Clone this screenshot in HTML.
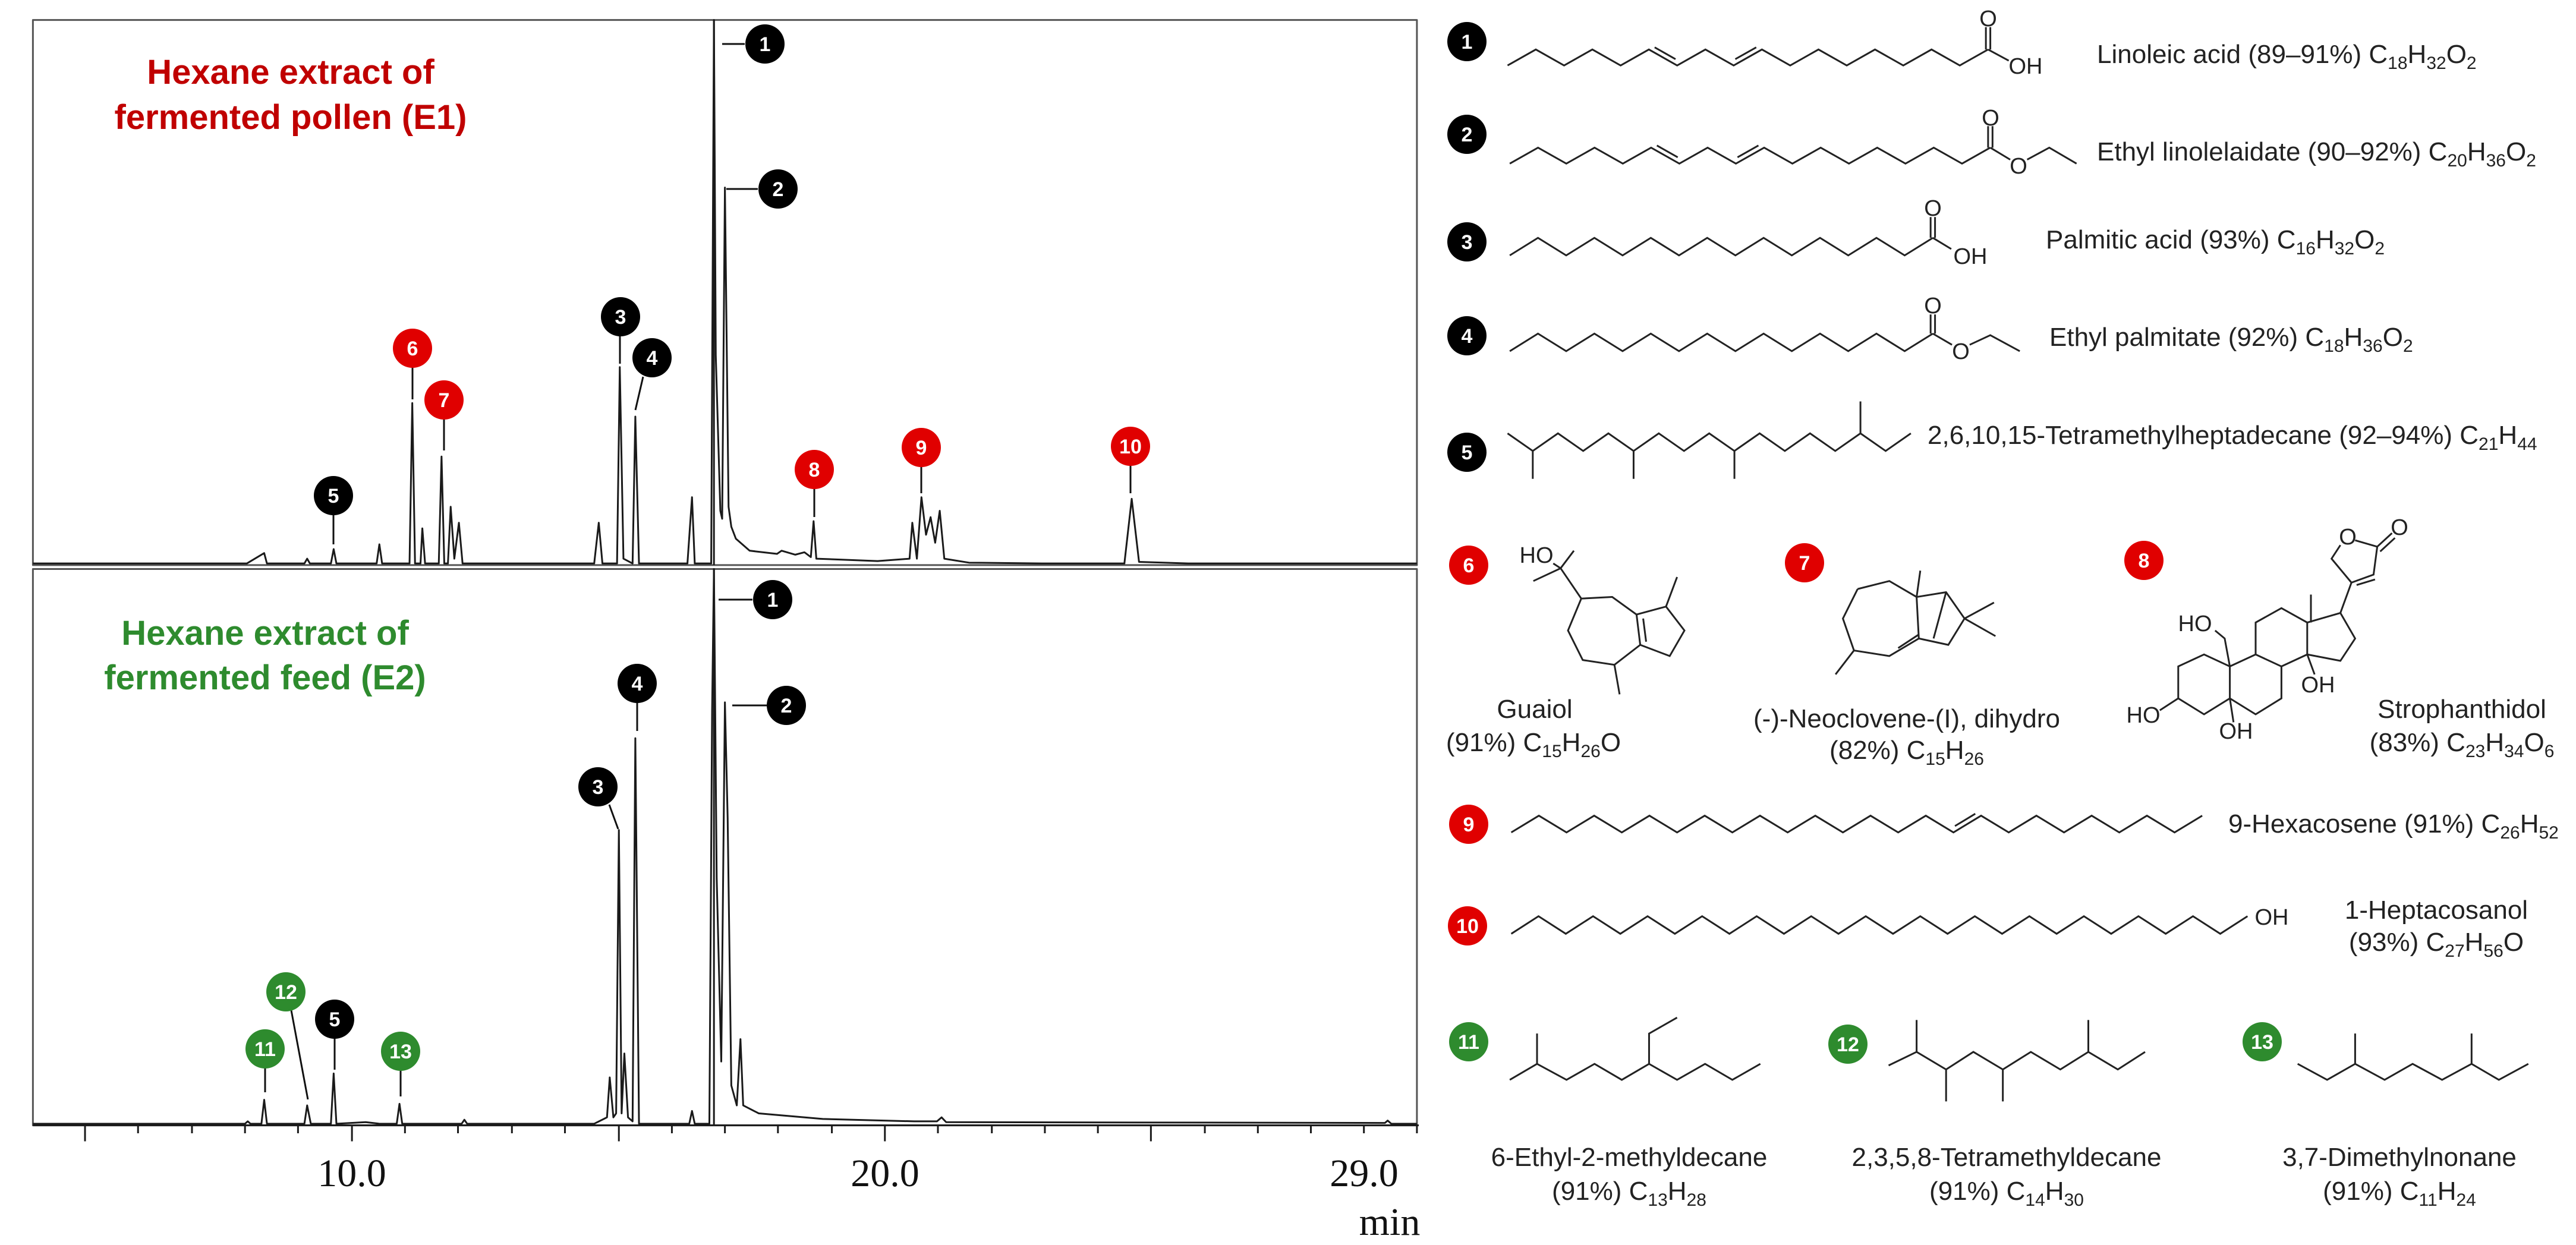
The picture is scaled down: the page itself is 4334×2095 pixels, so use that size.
<!DOCTYPE html>
<html><head><meta charset="utf-8"><style>
html,body{margin:0;padding:0;background:#fff;}
svg{display:block;}
.t{font-family:"Liberation Sans",sans-serif;font-size:44px;fill:#222;}
.n{font-family:"Liberation Sans",sans-serif;font-weight:bold;font-size:34px;fill:#fff;text-anchor:middle;}
.ax{font-family:"Liberation Serif",serif;font-size:66px;fill:#111;}
.ln{fill:none;stroke:#222;stroke-width:3;vector-effect:non-scaling-stroke;stroke-linejoin:miter;}
.tr{fill:none;stroke:#1a1a1a;stroke-width:3;vector-effect:non-scaling-stroke;stroke-linejoin:round;}
.at{font-family:"Liberation Sans",sans-serif;font-size:38px;fill:#222;}
</style></head><body>
<svg width="4334" height="2095" viewBox="0 0 4334 2095" xmlns="http://www.w3.org/2000/svg">
<rect width="4334" height="2095" fill="#fff"/>
<!-- chromatogram -->
<g transform="matrix(1.538 0 0 1.343 0 0)">
<rect x="36" y="25" width="1514" height="683" class="tr" style="stroke:#555"/>
<rect x="36" y="713" width="1514" height="697" class="tr" style="stroke:#555"/>
<path class="tr" d="M36 1410 L1552 1410"/>
<path class="tr" d="M781 25 V708 M781 713 V1410"/>
<path class="tr" d="M93 1410 v20 M151 1410 v10 M210 1410 v10 M268 1410 v10 M326 1410 v10 M385 1410 v20 M443 1410 v10 M501 1410 v10 M560 1410 v10 M618 1410 v10 M677 1410 v20 M735 1410 v10 M793 1410 v10 M851 1410 v10 M910 1410 v10 M968 1410 v20 M1026 1410 v10 M1085 1410 v10 M1143 1410 v10 M1201 1410 v10 M1259 1410 v20 M1318 1410 v10 M1376 1410 v10 M1434 1410 v10 M1492 1410 v10 M1550 1410 v10"/>
<path class="tr" d="M36 706 L270 706 L289 693 L292 706 L333 706 L336 700 L339 706 L362 706 L365 688 L368 706 L412 706 L415 682 L418 706 L448 706 L451 505 L454 706 L460 706 L462 662 L465 706 L480 706 L483 572 L486 706 L490 706 L493 635 L497 700 L502 655 L506 706 L650 706 L655 655 L659 706 L675 706 L678 460 L682 700 L692 706 L695 522 L699 706 L752 706 L757 623 L760 706 L778 706 L781 25 L783 445 L788 640 L790 650 L793 235 L797 635 L800 660 L805 675 L820 690 L850 694 L855 690 L870 695 L880 692 L887 698 L890 653 L893 700 L960 703 L995 700 L998 655 L1003 700 L1008 623 L1013 670 L1018 648 L1023 680 L1028 640 L1033 700 L1060 705 L1140 706 L1230 706 L1238 625 L1246 704 L1300 706 L1550 706"/>
<path class="tr" d="M36 1408 L268 1408 L271 1405 L274 1408 L286 1408 L289 1378 L292 1408 L333 1408 L336 1385 L340 1408 L362 1408 L365 1345 L368 1408 L400 1406 L415 1408 L434 1408 L437 1383 L440 1408 L505 1408 L508 1403 L511 1408 L650 1408 L664 1400 L667 1350 L671 1400 L674 1395 L677 1040 L680 1395 L683 1320 L687 1400 L692 1405 L695 925 L699 1408 L754 1408 L757 1392 L760 1408 L776 1408 L779 890 L781 713 L784 1100 L789 1330 L793 880 L796 1025 L800 1360 L806 1385 L810 1302 L813 1385 L830 1395 L900 1402 L1000 1405 L1025 1405 L1030 1400 L1035 1406 L1515 1407 L1518 1404 L1522 1408 L1550 1408"/>
</g>
<text class="ax" x="592" y="1996" text-anchor="middle">10.0</text>
<text class="ax" x="1489" y="1996" text-anchor="middle">20.0</text>
<text class="ax" x="2295" y="1996" text-anchor="middle">29.0</text>
<text class="ax" x="2338" y="2078" text-anchor="middle">min</text>
<g font-family="Liberation Sans,sans-serif" font-weight="bold" font-size="58" text-anchor="middle">
<text x="489" y="141" fill="#c00000">Hexane extract of</text>
<text x="489" y="217" fill="#c00000">fermented pollen (E1)</text>
<text x="446" y="1085" fill="#2e8b2e">Hexane extract of</text>
<text x="446" y="1160" fill="#2e8b2e">fermented feed (E2)</text>
</g>
<!-- leader lines -->
<path stroke="#111" stroke-width="3" fill="none" d="M1215 74 H1253 M1222 318 H1275 M1043 565 V612 M1082 634 L1069 690 M561 866 V916 M694 618 V672 M747 705 V758 M1370 822 V870 M1550 785 V830 M1902 783 V830 M1209 1009 H1266 M1232 1187 H1290 M1072 1182 V1230 M1025 1354 L1040 1395 M563 1747 V1800 M446 1797 V1838 M490 1700 L518 1850 M674 1801 V1845"/>
<g>
<circle cx="1287" cy="74" r="33" fill="#000"/><text class="n" x="1287" y="86">1</text>
<circle cx="1309" cy="318" r="33" fill="#000"/><text class="n" x="1309" y="330">2</text>
<circle cx="1044" cy="533" r="33" fill="#000"/><text class="n" x="1044" y="545">3</text>
<circle cx="1097" cy="602" r="33" fill="#000"/><text class="n" x="1097" y="614">4</text>
<circle cx="561" cy="834" r="33" fill="#000"/><text class="n" x="561" y="846">5</text>
<circle cx="694" cy="586" r="33" fill="#e00000"/><text class="n" x="694" y="598">6</text>
<circle cx="747" cy="673" r="33" fill="#e00000"/><text class="n" x="747" y="685">7</text>
<circle cx="1370" cy="790" r="33" fill="#e00000"/><text class="n" x="1370" y="802">8</text>
<circle cx="1550" cy="753" r="33" fill="#e00000"/><text class="n" x="1550" y="765">9</text>
<circle cx="1902" cy="751" r="33" fill="#e00000"/><text class="n" x="1902" y="763">10</text>
<circle cx="1300" cy="1009" r="33" fill="#000"/><text class="n" x="1300" y="1021">1</text>
<circle cx="1323" cy="1187" r="33" fill="#000"/><text class="n" x="1323" y="1199">2</text>
<circle cx="1072" cy="1150" r="33" fill="#000"/><text class="n" x="1072" y="1162">4</text>
<circle cx="1006" cy="1324" r="33" fill="#000"/><text class="n" x="1006" y="1336">3</text>
<circle cx="563" cy="1715" r="33" fill="#000"/><text class="n" x="563" y="1727">5</text>
<circle cx="446" cy="1765" r="33" fill="#2e8b2e"/><text class="n" x="446" y="1777">11</text>
<circle cx="481" cy="1669" r="33" fill="#2e8b2e"/><text class="n" x="481" y="1681">12</text>
<circle cx="674" cy="1769" r="33" fill="#2e8b2e"/><text class="n" x="674" y="1781">13</text>
</g>
<!-- right side structures -->
<g transform="matrix(1.24 0 0 1.343 2400 0)">
<path class="ln" d="M110 82 l38.35 -20 l38.35 20 l38.35 -20 l38.35 20 l38.35 -20 l38.35 20 l38.35 -20 l38.35 20 l38.35 -20 l38.35 20 l38.35 -20 l38.35 20 l38.35 -20 l38.35 20 l38.35 -20 l38.35 20 l38.35 -20 M309.6 59.3 L337.9 74.1 M419 74.1 L447.4 59.3 M759 62 V34 M765 62 V34 M762 62 L790 76"/>
<path class="ln" d="M113 205 l38.35 -20 l38.35 20 l38.35 -20 l38.35 20 l38.35 -20 l38.35 20 l38.35 -20 l38.35 20 l38.35 -20 l38.35 20 l38.35 -20 l38.35 20 l38.35 -20 l38.35 20 l38.35 -20 l38.35 20 l38.35 -20 M312.6 182.3 L340.9 197.1 M422 197.1 L450.4 182.3 M762 185 V158 M768 185 V158 M765 185 L792 200 M815 200 L845 185 L882 205"/>
<path class="ln" d="M113 320 l38.27 -22 l38.27 22 l38.27 -22 l38.27 22 l38.27 -22 l38.27 22 l38.27 -22 l38.27 22 l38.27 -22 l38.27 22 l38.27 -22 l38.27 22 l38.27 -22 l38.27 22 l38.27 -22 M684 298 V272 M690 298 V272 M687 298 L712 312"/>
<path class="ln" d="M113 440 l38.27 -22 l38.27 22 l38.27 -22 l38.27 22 l38.27 -22 l38.27 22 l38.27 -22 l38.27 22 l38.27 -22 l38.27 22 l38.27 -22 l38.27 22 l38.27 -22 l38.27 22 l38.27 -22 M684 418 V394 M690 418 V394 M687 418 L713 432 M737 432 L765 420 L805 440"/>
<path class="ln" d="M110 543 l34.2 22 l34.2 -22 l34.2 22 l34.2 -22 l34.2 22 l34.2 -22 l34.2 22 l34.2 -22 l34.2 22 l34.2 -22 l34.2 22 l34.2 -22 l34.2 22 l34.2 -22 l34.2 22 l34.2 -22 M144.2 565 V600 M281 565 V600 M417.8 565 V600 M588.8 543 V503"/>
<path class="ln" d="M115 1043 l37.5 -21 l37.5 21 l37.5 -21 l37.5 21 l37.5 -21 l37.5 21 l37.5 -21 l37.5 21 l37.5 -21 l37.5 21 l37.5 -21 l37.5 21 l37.5 -21 l37.5 21 l37.5 -21 l37.5 21 l37.5 -21 l37.5 21 l37.5 -21 l37.5 21 l37.5 -21 l37.5 21 l37.5 -21 l37.5 21 l37.5 -21 M717 1035 L744.6 1019.6"/>
<path class="ln" d="M115 1170 l37 -22 l37 22 l37 -22 l37 22 l37 -22 l37 22 l37 -22 l37 22 l37 -22 l37 22 l37 -22 l37 22 l37 -22 l37 22 l37 -22 l37 22 l37 -22 l37 22 l37 -22 l37 22 l37 -22 l37 22 l37 -22 l37 22 l37 -22 l37 22 l37 -22"/>
<path class="ln" d="M113 1353 L150 1333 L190 1353 L228 1333 L265 1353 L302 1333 L340 1353 L378 1333 L415 1353 L453 1333 M150 1333 V1295 M302 1333 V1295 L340 1275"/>
<path class="ln" d="M627 1335 L665 1318 L705 1340 L742 1318 L782 1340 L820 1318 L860 1340 L898 1318 L938 1340 L975 1318 M665 1318 V1278 M705 1340 V1380 M782 1340 V1380 M898 1318 V1278"/>
<path class="ln" d="M1182 1333 L1222 1353 L1260 1333 L1300 1353 L1338 1333 L1378 1353 L1418 1333 L1455 1353 L1495 1333 M1260 1333 V1295 M1418 1333 V1295"/>
<!-- guaiol -->
<path class="ln" d="M172 706 L182 712 L200 690 M145 728 L182 712 L210 750 L252 748 L285 770 L290 808 L255 833 L212 827 L192 790 L210 750 M285 770 L325 760 L350 790 L330 822 L290 808 M294 775 L298 804 M325 760 L340 723 M255 833 L262 870"/>
<!-- neoclovene -->
<path class="ln" d="M585 738 L628 728 L665 748 L668 800 L628 822 L580 815 L565 775 L585 738 M665 748 L670 715 M665 748 L705 742 L730 775 L708 808 L668 800 M705 742 L688 800 M730 775 L770 755 M730 775 L772 797 M580 815 L555 845 M640 812 L668 795"/>
<!-- strophanthidol -->
<path class="ln" d="M1020 835 L1055 820 L1090 835 L1090 875 L1055 895 L1020 875 Z M1090 835 L1125 820 L1160 835 L1160 875 L1125 895 L1090 875 M1125 820 L1125 780 L1160 762 L1195 780 L1195 820 L1160 835 M1195 780 L1240 768 L1260 800 L1240 828 L1195 820 M1240 768 L1255 730 M1255 730 L1228 700 L1240 683 M1260 677 L1290 685 L1285 720 L1255 730 M1262 733 L1287 726 M1290 685 L1310 668 M1294 691 L1314 674 M1200 780 V745 M1090 835 L1083 800 L1070 790 M1020 875 L995 890 M1090 875 L1095 905 M1195 820 L1205 845"/>
</g>
<!-- right numbered circles -->
<g>
<circle cx="2468" cy="70" r="33" fill="#000"/><text class="n" x="2468" y="82">1</text>
<circle cx="2468" cy="226" r="33" fill="#000"/><text class="n" x="2468" y="238">2</text>
<circle cx="2468" cy="407" r="33" fill="#000"/><text class="n" x="2468" y="419">3</text>
<circle cx="2468" cy="565" r="33" fill="#000"/><text class="n" x="2468" y="577">4</text>
<circle cx="2468" cy="761" r="33" fill="#000"/><text class="n" x="2468" y="773">5</text>
<circle cx="2471" cy="951" r="33" fill="#e00000"/><text class="n" x="2471" y="963">6</text>
<circle cx="3036" cy="947" r="33" fill="#e00000"/><text class="n" x="3036" y="959">7</text>
<circle cx="3607" cy="943" r="33" fill="#e00000"/><text class="n" x="3607" y="955">8</text>
<circle cx="2471" cy="1387" r="33" fill="#e00000"/><text class="n" x="2471" y="1399">9</text>
<circle cx="2469" cy="1558" r="33" fill="#e00000"/><text class="n" x="2469" y="1570">10</text>
<circle cx="2471" cy="1753" r="33" fill="#2e8b2e"/><text class="n" x="2471" y="1765">11</text>
<circle cx="3109" cy="1757" r="33" fill="#2e8b2e"/><text class="n" x="3109" y="1769">12</text>
<circle cx="3806" cy="1753" r="33" fill="#2e8b2e"/><text class="n" x="3806" y="1765">13</text>
</g>
<!-- atom labels -->
<g class="at" text-anchor="middle">
<text class="at" x="3345" y="44">O</text>
<text class="at" x="3408" y="124">OH</text>
<text class="at" x="3349" y="211">O</text>
<text class="at" x="3396" y="292">O</text>
<text class="at" x="3252" y="363">O</text>
<text class="at" x="3315" y="444">OH</text>
<text class="at" x="3252" y="527">O</text>
<text class="at" x="3299" y="604">O</text>
<text class="at" x="3822" y="1556">OH</text>
<text class="at" x="2585" y="947">HO</text>
<text class="at" x="3693" y="1062">HO</text>
<text class="at" x="3606" y="1216">HO</text>
<text class="at" x="3762" y="1243">OH</text>
<text class="at" x="3900" y="1165">OH</text>
<text class="at" x="3950" y="916">O</text>
<text class="at" x="4037" y="900">O</text>
</g>
<!-- right labels -->
<text class="t" x="3528" y="106">Linoleic acid (89–91%) C<tspan dy="10" font-size="30">18</tspan><tspan dy="-10">H</tspan><tspan dy="10" font-size="30">32</tspan><tspan dy="-10">O</tspan><tspan dy="10" font-size="30">2</tspan></text>
<text class="t" x="3528" y="270">Ethyl linolelaidate (90–92%) C<tspan dy="10" font-size="30">20</tspan><tspan dy="-10">H</tspan><tspan dy="10" font-size="30">36</tspan><tspan dy="-10">O</tspan><tspan dy="10" font-size="30">2</tspan></text>
<text class="t" x="3442" y="418">Palmitic acid (93%) C<tspan dy="10" font-size="30">16</tspan><tspan dy="-10">H</tspan><tspan dy="10" font-size="30">32</tspan><tspan dy="-10">O</tspan><tspan dy="10" font-size="30">2</tspan></text>
<text class="t" x="3448" y="582">Ethyl palmitate (92%) C<tspan dy="10" font-size="30">18</tspan><tspan dy="-10">H</tspan><tspan dy="10" font-size="30">36</tspan><tspan dy="-10">O</tspan><tspan dy="10" font-size="30">2</tspan></text>
<text class="t" x="3243" y="747">2,6,10,15-Tetramethylheptadecane (92–94%) C<tspan dy="10" font-size="30">21</tspan><tspan dy="-10">H</tspan><tspan dy="10" font-size="30">44</tspan></text>
<g text-anchor="middle">
<text class="t" x="2582" y="1208">Guaiol</text>
<text class="t" x="2580" y="1264">(91%) C<tspan dy="10" font-size="30">15</tspan><tspan dy="-10">H</tspan><tspan dy="10" font-size="30">26</tspan><tspan dy="-10">O</tspan></text>
<text class="t" x="3208" y="1224">(-)-Neoclovene-(I), dihydro</text>
<text class="t" x="3208" y="1277">(82%) C<tspan dy="10" font-size="30">15</tspan><tspan dy="-10">H</tspan><tspan dy="10" font-size="30">26</tspan></text>
<text class="t" x="4142" y="1208">Strophanthidol</text>
<text class="t" x="4142" y="1264">(83%) C<tspan dy="10" font-size="30">23</tspan><tspan dy="-10">H</tspan><tspan dy="10" font-size="30">34</tspan><tspan dy="-10">O</tspan><tspan dy="10" font-size="30">6</tspan></text>
<text class="t" x="4099" y="1546">1-Heptacosanol</text>
<text class="t" x="4099" y="1600">(93%) C<tspan dy="10" font-size="30">27</tspan><tspan dy="-10">H</tspan><tspan dy="10" font-size="30">56</tspan><tspan dy="-10">O</tspan></text>
<text class="t" x="2741" y="1962">6-Ethyl-2-methyldecane</text>
<text class="t" x="2741" y="2019">(91%) C<tspan dy="10" font-size="30">13</tspan><tspan dy="-10">H</tspan><tspan dy="10" font-size="30">28</tspan></text>
<text class="t" x="3376" y="1962">2,3,5,8-Tetramethyldecane</text>
<text class="t" x="3376" y="2019">(91%) C<tspan dy="10" font-size="30">14</tspan><tspan dy="-10">H</tspan><tspan dy="10" font-size="30">30</tspan></text>
<text class="t" x="4037" y="1962">3,7-Dimethylnonane</text>
<text class="t" x="4037" y="2019">(91%) C<tspan dy="10" font-size="30">11</tspan><tspan dy="-10">H</tspan><tspan dy="10" font-size="30">24</tspan></text>
</g>
<text class="t" x="3749" y="1401">9-Hexacosene (91%) C<tspan dy="10" font-size="30">26</tspan><tspan dy="-10">H</tspan><tspan dy="10" font-size="30">52</tspan></text>
</svg>
</body></html>
